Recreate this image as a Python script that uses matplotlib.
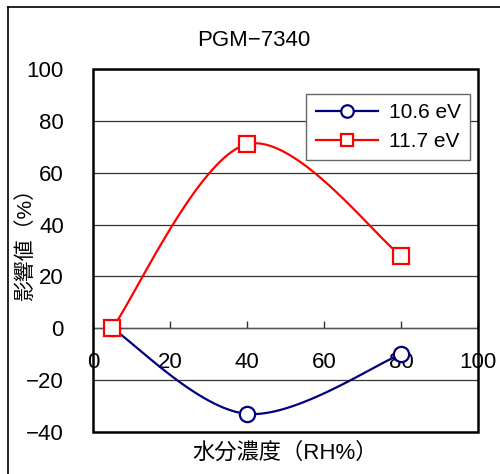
import numpy as np
import matplotlib
matplotlib.use('Agg')
import matplotlib.pyplot as plt
from matplotlib.patches import Rectangle
from matplotlib.lines import Line2D

plt.rcParams['font.family'] = ['Liberation Sans', 'Noto Sans CJK JP', 'DejaVu Sans']
plt.rcParams['axes.unicode_minus'] = True

# データ
rh = [5, 40, 80]
ev106 = [0, -33, -10]
ev117 = [0, 71, 28]
labels = ['10.6 eV', '11.7 eV']
colors = ['#000080', '#ff0000']
markers = ['o', 's']


def excel_smooth(xs, ys, n=40):
    # Excelの平滑線(ベジェ曲線)に近い補間
    p = np.column_stack([xs, ys]).astype(float)
    pts = []
    for i in range(len(p) - 1):
        p0 = p[i - 1] if i > 0 else p[i]
        p1 = p[i]
        p2 = p[i + 1]
        p3 = p[i + 2] if i + 2 < len(p) else p[i + 1]
        c1 = p1 + (p2 - p0) / 6.0
        c2 = p2 - (p3 - p1) / 6.0
        t = np.linspace(0, 1, n)[:, None]
        seg = ((1 - t) ** 3) * p1 + 3 * ((1 - t) ** 2) * t * c1 + 3 * (1 - t) * t ** 2 * c2 + t ** 3 * p2
        pts.append(seg if i == 0 else seg[1:])
    pts = np.vstack(pts)
    return pts[:, 0], pts[:, 1]


fig = plt.figure(figsize=(5.0, 4.74), dpi=100)
ax = fig.add_axes([0.186, 0.0886, 0.77, 0.7658])

# 外枠(左と上)
fig.add_artist(Line2D([0.016, 0.016], [0, 0.985], transform=fig.transFigure, color='black', lw=1.2))
fig.add_artist(Line2D([0.016, 1.0], [0.985, 0.985], transform=fig.transFigure, color='black', lw=1.2))

for ys, lab, c, m in zip([ev106, ev117], labels, colors, markers):
    sx, sy = excel_smooth(rh, ys)
    ax.plot(sx, sy, color=c, lw=1.6, zorder=3)
    ax.plot(rh, ys, linestyle='none', marker=m, markersize=11 if m == 'o' else 11.5,
            markerfacecolor='white', markeredgecolor=c, markeredgewidth=1.6, zorder=4)

ax.set_xlim(0, 100)
ax.set_ylim(-40, 100)
ax.set_xticks(np.arange(0, 101, 20))
ax.set_yticks(np.arange(-40, 101, 20))
ax.yaxis.grid(True, color='#333333', lw=0.9)
ax.set_axisbelow(True)

# x軸は y=0 の位置
ax.spines['bottom'].set_position(('data', 0))
ax.spines['bottom'].set_color('#555555')
ax.spines['bottom'].set_linewidth(1.0)
for s in ['top', 'right', 'left']:
    ax.spines[s].set_visible(False)
ax.add_patch(Rectangle((0, 0), 1, 1, transform=ax.transAxes, fill=False,
                       lw=1.8, edgecolor='black', clip_on=False, zorder=5))

ax.tick_params(axis='x', direction='in', length=5, width=1, color='#333333',
               pad=17, labelsize=16)
ax.tick_params(axis='y', length=0, pad=21, labelsize=16)

ax.set_ylabel('影響値（%）', fontsize=15)
ax.yaxis.set_label_coords(-0.15, 0.53)
ax.set_xlabel('水分濃度（RH%）', fontsize=16, va='top')
ax.xaxis.set_label_coords(0.5, -0.03)

fig.text(0.508, 0.915, 'PGM\u22127340', ha='center', va='center', fontsize=16)

handles = [Line2D([], [], color=c, lw=1.6, marker=m, markersize=9,
                  markerfacecolor='white', markeredgecolor=c, markeredgewidth=1.6)
           for c, m in zip(colors, markers)]
leg = ax.legend(handles, labels, loc='upper right', bbox_to_anchor=(0.979, 0.931),
                borderaxespad=0, fancybox=False, framealpha=1, edgecolor='#666666',
                fontsize=15, handlelength=3.0, labelspacing=0.45, borderpad=0.45,
                handletextpad=0.5)
leg.get_frame().set_linewidth(1.0)
leg.set_zorder(6)

fig.savefig('out.png', dpi=100)
